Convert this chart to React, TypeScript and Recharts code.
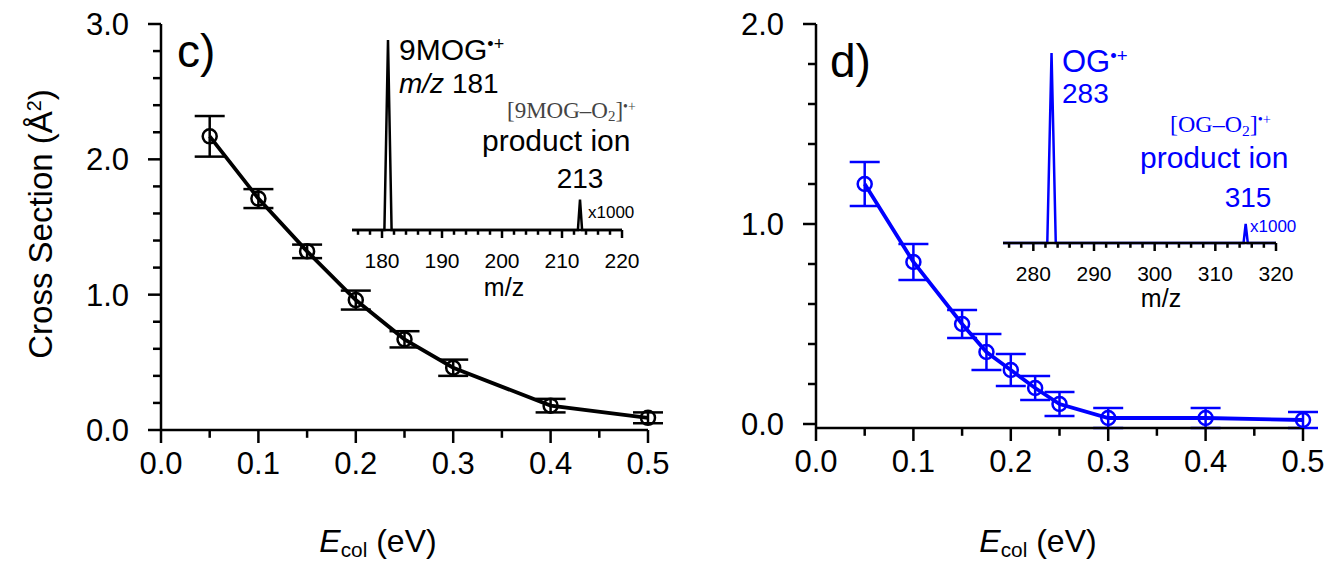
import React from "react";
import { ComposedChart, LineChart, Line, XAxis, YAxis, ErrorBar } from "recharts";

const FONT = '"Liberation Sans", Arial, sans-serif';
const SERIF = '"Liberation Serif", "Times New Roman", serif';
const BLUE = "#0000ff";

// panel c) 9MOG + O2
const energyC = [0.05, 0.1, 0.15, 0.2, 0.25, 0.3, 0.4, 0.5];
const sigmaC = [2.17, 1.71, 1.32, 0.96, 0.67, 0.46, 0.18, 0.09];
const errC = [0.15, 0.07, 0.05, 0.07, 0.06, 0.06, 0.05, 0.04];

// panel d) OG + O2
const energyD = [0.05, 0.1, 0.15, 0.175, 0.2, 0.225, 0.25, 0.3, 0.4, 0.5];
const sigmaD = [1.2, 0.81, 0.5, 0.36, 0.27, 0.18, 0.1, 0.03, 0.03, 0.02];
const errD = [0.11, 0.09, 0.07, 0.09, 0.08, 0.06, 0.06, 0.05, 0.05, 0.04];

// inset mass spectra (product peak shown x1000)
const mzC = [175, 180.4, 181, 181.6, 212.65, 213, 213.35, 220];
const intC = [0, 0, 100, 0, 0, 16, 0, 0];
const mzD = [275, 282.3, 283, 283.7, 314.65, 315, 315.35, 320];
const intD = [0, 0, 100, 0, 0, 10, 0, 0];

const energyTicks = [0, 0.05, 0.1, 0.15, 0.2, 0.25, 0.3, 0.35, 0.4, 0.45, 0.5];
const sigmaTicksC = [0, 0.2, 0.4, 0.6, 0.8, 1, 1.2, 1.4, 1.6, 1.8, 2, 2.2, 2.4, 2.6, 2.8, 3];
const sigmaTicksD = [0, 0.2, 0.4, 0.6, 0.8, 1, 1.2, 1.4, 1.6, 1.8, 2];
const mzTicksC = [176, 178, 180, 182, 184, 186, 188, 190, 192, 194, 196, 198, 200, 202, 204, 206, 208, 210, 212, 214, 216, 218, 220];
const mzTicksD = [276, 278, 280, 282, 284, 286, 288, 290, 292, 294, 296, 298, 300, 302, 304, 306, 308, 310, 312, 314, 316, 318, 320];

const tableC = energyC.map((e, i) => ({ e, s: sigmaC[i], err: errC[i] }));
const tableD = energyD.map((e, i) => ({ e, s: sigmaD[i], err: errD[i] }));
const specC = mzC.map((m, i) => ({ m, v: intC[i] }));
const specD = mzD.map((m, i) => ({ m, v: intD[i] }));

const isMajor = (v: number, step: number) => Math.abs(v / step - Math.round(v / step)) < 1e-6;

const xTick = (step: number, len: number, fs: number, dy: number, fmt: (v: number) => string) =>
  (props: any) => {
    const { x, y, payload } = props;
    const major = isMajor(payload.value, step);
    return (
      <g>
        <line x1={x} x2={x} y1={y} y2={y + (major ? len : len * 0.6)} stroke="#000" strokeWidth={2.5} />
        {major && (
          <text x={x} y={y + dy} textAnchor="middle" fontSize={fs} fontFamily={FONT} fill="#000">
            {fmt(payload.value)}
          </text>
        )}
      </g>
    );
  };

const yTick = (props: any) => {
  const { x, y, payload } = props;
  const major = isMajor(payload.value, 1);
  return (
    <g>
      <line x1={x} x2={x - (major ? 13 : 8)} y1={y} y2={y} stroke="#000" strokeWidth={2.5} />
      {major && (
        <text x={x - 32} y={y + 11} textAnchor="end" fontSize={31} fontFamily={FONT} fill="#000">
          {payload.value.toFixed(1)}
        </text>
      )}
    </g>
  );
};

const mainX = xTick(0.1, 13, 31, 44, (v) => v.toFixed(1));
const insetX = xTick(10, 8, 21, 38, (v) => String(v));

function CrossSection({ data, color, yMax, yTicks, left, width, right, xh }: any) {
  return (
    <div style={{ position: "absolute", left, top: 0 }}>
      <ComposedChart width={width} height={566} data={data} margin={{ top: 24, right, bottom: 0, left: 0 }}>
        <XAxis
          dataKey="e"
          type="number"
          domain={[0, 0.5]}
          ticks={energyTicks}
          interval={0}
          height={xh}
          tickSize={0}
          tickMargin={0}
          tick={mainX}
          tickLine={false}
          axisLine={{ stroke: "#000", strokeWidth: 2.5 }}
        />
        <YAxis
          type="number"
          domain={[0, yMax]}
          ticks={yTicks}
          interval={0}
          width={left === 0 ? 161 : 136}
          tickSize={0}
          tickMargin={0}
          tick={yTick}
          tickLine={false}
          axisLine={{ stroke: "#000", strokeWidth: 2.5 }}
        />
        <Line
          type="linear"
          dataKey="s"
          stroke={color}
          strokeWidth={3.8}
          dot={{ r: 7, fill: "none", stroke: color, strokeWidth: 2.5 }}
          isAnimationActive={false}
        >
          <ErrorBar dataKey="err" width={15} stroke={color} strokeWidth={2.5} />
        </Line>
      </ComposedChart>
    </div>
  );
}

function Spectrum({ data, color, domain, ticks, left, top, margin }: any) {
  return (
    <div style={{ position: "absolute", left, top }}>
      <LineChart width={330} height={270} data={data} margin={margin}>
        <XAxis
          dataKey="m"
          type="number"
          domain={domain}
          ticks={ticks}
          interval={0}
          height={70}
          tickSize={0}
          tickMargin={0}
          tick={insetX}
          tickLine={false}
          axisLine={{ stroke: "#000", strokeWidth: 2.5 }}
        />
        <YAxis hide type="number" domain={[0, 100]} />
        <Line type="linear" dataKey="v" stroke={color} strokeWidth={2.5} dot={false} isAnimationActive={false} />
      </LineChart>
    </div>
  );
}

export default function App() {
  const sup = { baselineShift: "super", fontSize: "60%" } as any;
  const sub = { baselineShift: "-22%", fontSize: "65%" } as any;
  return (
    <div style={{ position: "absolute", left: 0, top: 0, width: 1329, height: 566, background: "#fff", overflow: "hidden" }}>
      <CrossSection data={tableC} color="#000" yMax={3} yTicks={sigmaTicksC} left={0} width={680} right={32} xh={136} />
      <CrossSection data={tableD} color={BLUE} yMax={2} yTicks={sigmaTicksD} left={680} width={649} right={26} xh={138} />
      <Spectrum data={specC} color="#000" domain={[175, 220]} ticks={mzTicksC} left={340} top={30} margin={{ top: 10, right: 48, bottom: 0, left: 12 }} />
      <Spectrum data={specD} color={BLUE} domain={[275, 320]} ticks={mzTicksD} left={990} top={43} margin={{ top: 10, right: 44, bottom: 0, left: 13 }} />
      <svg width={1329} height={566} style={{ position: "absolute", left: 0, top: 0, pointerEvents: "none" }} fontFamily={FONT}>
        <text transform="translate(52,224) rotate(-90)" textAnchor="middle" fontSize={33} fill="#000">
          Cross Section (Å<tspan style={sup}>2</tspan>)
        </text>
        <text x={378} y={552} textAnchor="middle" fontSize={32} fill="#000">
          <tspan fontStyle="italic">E</tspan>
          <tspan style={sub}>col</tspan> (eV)
        </text>
        <text x={1038} y={552} textAnchor="middle" fontSize={32} fill="#000">
          <tspan fontStyle="italic">E</tspan>
          <tspan style={sub}>col</tspan> (eV)
        </text>

        <text x={177} y={67} fontSize={46} fill="#000">c)</text>
        <text x={830} y={77} fontSize={46} fill="#000">d)</text>

        <text x={399} y={60} fontSize={30} fill="#000">
          9MOG<tspan style={sup}>•+</tspan>
        </text>
        <text x={399} y={93} fontSize={28} fill="#000">
          <tspan fontStyle="italic">m/z</tspan> 181
        </text>
        <text x={507} y={118} fontSize={23} fontFamily={SERIF} fill="#444">
          [9MOG–O<tspan style={sub}>2</tspan>]<tspan style={sup}>•+</tspan>
        </text>
        <text x={482} y={151} fontSize={30} fill="#000">product ion</text>
        <text x={580} y={188} fontSize={28} textAnchor="middle" fill="#000">213</text>
        <text x={588} y={218} fontSize={17} fill="#000">x1000</text>
        <text x={504} y={296} fontSize={25} textAnchor="middle" fill="#000">m/z</text>

        <text x={1062} y={72} fontSize={31} fill={BLUE}>
          OG<tspan style={sup}>•+</tspan>
        </text>
        <text x={1062} y={103} fontSize={28} fill={BLUE}>283</text>
        <text x={1170} y={132} fontSize={24} fontFamily={SERIF} fill={BLUE}>
          [OG–O<tspan style={sub}>2</tspan>]<tspan style={sup}>•+</tspan>
        </text>
        <text x={1140} y={168} fontSize={30} fill={BLUE}>product ion</text>
        <text x={1248} y={207} fontSize={28} textAnchor="middle" fill={BLUE}>315</text>
        <text x={1250} y={232} fontSize={17} fill={BLUE}>x1000</text>
        <text x={1161} y={307} fontSize={25} textAnchor="middle" fill="#000">m/z</text>
      </svg>
    </div>
  );
}
